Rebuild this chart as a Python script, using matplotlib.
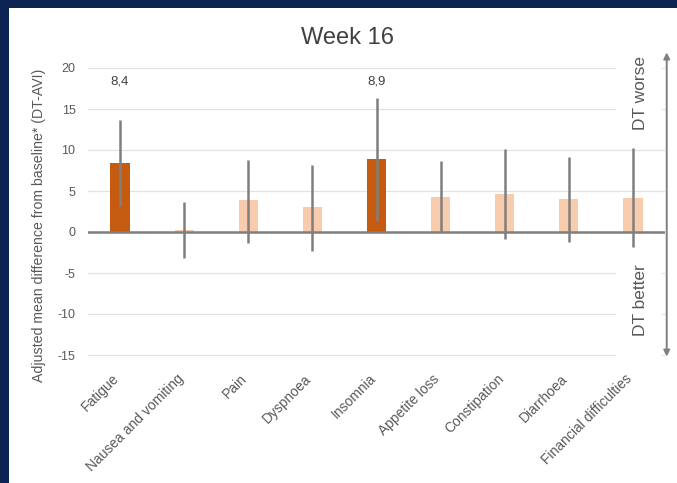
import matplotlib
matplotlib.use("Agg")
import matplotlib.pyplot as plt
from matplotlib.patches import Rectangle
from matplotlib.transforms import ScaledTranslation

plt.rcParams['font.family'] = ['Liberation Sans', 'DejaVu Sans']

categories = ["Fatigue", "Nausea and vomiting", "Pain", "Dyspnoea", "Insomnia",
              "Appetite loss", "Constipation", "Diarrhoea", "Financial difficulties"]
values = [8.4, 0.3, 3.9, 3.0, 8.9, 4.3, 4.6, 4.0, 4.1]
ci_low = [3.2, -3.2, -1.3, -2.3, 1.4, 0.0, -0.8, -1.2, -1.8]
ci_high = [13.6, 3.7, 8.8, 8.2, 16.3, 8.6, 10.1, 9.2, 10.3]
significant = [True, False, False, False, True, False, False, False, False]
labels = {0: "8,4", 4: "8,9"}
yticks = [20, 15, 10, 5, 0, -5, -10, -15]

dark = "#C55A11"
light = "#F8CBAD"

fig = plt.figure(figsize=(6.77, 4.83), dpi=100)
ax = fig.add_axes([88/677, 1 - 363.2/483, 577/677, 303.4/483])

x = list(range(len(categories)))
colors = [dark if s else light for s in significant]
ax.bar(x, values, width=0.3, color=colors, zorder=2)
err_lo = [v - l for v, l in zip(values, ci_low)]
err_hi = [h - v for v, h in zip(values, ci_high)]
ax.errorbar(x, values, yerr=[err_lo, err_hi], fmt='none', ecolor='#7f7f7f',
            elinewidth=1.8, capsize=0, zorder=3)

for i, t in labels.items():
    ax.text(i, 18.3, t, ha='center', va='center', fontsize=9.5, color='#404040')

ax.set_xlim(-0.5, len(categories) - 0.5)
ax.set_ylim(-16, 21)
ax.set_yticks(yticks)
ax.set_yticklabels([str(v) for v in yticks], fontsize=9, color='#595959')
ax.grid(axis='y', color='#e3e3e3', linewidth=0.9, zorder=0)
ax.set_axisbelow(True)
ax.axhline(0, color='#7f7f7f', linewidth=1.8, zorder=4)
for s in ax.spines.values():
    s.set_visible(False)
ax.tick_params(axis='both', length=0)
ax.tick_params(axis='y', pad=9)
ax.set_xticks(x)
ax.set_xticklabels(categories, rotation=45, ha='right', va='top',
                   rotation_mode='anchor', fontsize=10, color='#595959')
ax.tick_params(axis='x', pad=6)
off = ScaledTranslation(-8/100, 0, fig.dpi_scale_trans)
for lbl in ax.get_xticklabels():
    lbl.set_transform(lbl.get_transform() + off)

ax.set_ylabel("Adjusted mean difference from baseline* (DT-AVI)", fontsize=10.2,
              color='#595959')
ax.yaxis.set_label_coords(-0.072, 0.455)

tr = ax.get_yaxis_transform()
# white boxes hiding gridlines behind side labels
ax.add_patch(Rectangle((0.915, 13.0), 0.08, 8.0, transform=tr, facecolor='white',
                       edgecolor='none', zorder=1, clip_on=False))
ax.add_patch(Rectangle((0.915, -16.0), 0.08, 13.5, transform=tr, facecolor='white',
                       edgecolor='none', zorder=1, clip_on=False))
ax.annotate('', xy=(1.003, 21.9), xytext=(1.003, -15.2), xycoords=tr, textcoords=tr,
            arrowprops=dict(arrowstyle='<|-|>', color='#7f7f7f', lw=1.4,
                            mutation_scale=9, shrinkA=0, shrinkB=0),
            annotation_clip=False, zorder=6)
ax.text(0.958, 17.0, "DT worse", transform=tr, rotation=90, ha='center', va='center',
        fontsize=12.5, color='#595959', zorder=5)
ax.text(0.958, -8.3, "DT better", transform=tr, rotation=90, ha='center', va='center',
        fontsize=12.5, color='#595959', zorder=5)

fig.text(0.513, 1 - 38/483, "Week 16", ha='center', va='center', fontsize=17,
         color='#404040')

navy = '#0b2454'
fig.patches.append(Rectangle((0, 1 - 8/483), 1, 8/483, transform=fig.transFigure,
                             facecolor=navy, edgecolor='none', zorder=10))
fig.patches.append(Rectangle((0, 0), 9/677, 1, transform=fig.transFigure,
                             facecolor=navy, edgecolor='none', zorder=10))

fig.savefig("out.png", dpi=100)
